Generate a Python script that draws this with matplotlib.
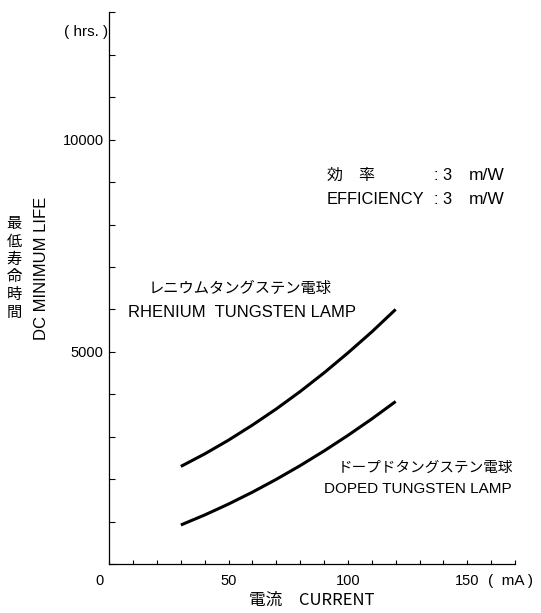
import matplotlib
matplotlib.use("Agg")
import matplotlib.pyplot as plt
from matplotlib.ticker import MultipleLocator
from matplotlib.transforms import ScaledTranslation, blended_transform_factory

# Lamp life vs. current (efficiency 3 lm/W)
current_ma = [30, 40, 50, 60, 70, 80, 90, 100, 110, 120]
rhenium_life = [2300, 2595, 2920, 3275, 3655, 4065, 4505, 4975, 5470, 6000]
doped_life = [920, 1156, 1414, 1694, 1996, 2319, 2664, 3031, 3419, 3830]

x_ticks = [0, 50, 100, 150]
x_tick_labels = ["0", "50", "100", "150"]
y_ticks = [5000, 10000]
y_tick_labels = ["5000", "10000"]

LAT = ["Liberation Sans", "Noto Sans CJK JP"]
JP = ["Noto Sans CJK JP", "Liberation Sans"]

fig = plt.figure(figsize=(5.41, 6.13), dpi=100)
ax = fig.add_axes([0.202, 0.0799, 0.7499, 0.900])

ax.plot(current_ma, rhenium_life, color="black", lw=2.2, solid_capstyle="butt")
ax.plot(current_ma, doped_life, color="black", lw=2.2, solid_capstyle="butt")

ax.set_xlim(0, 170)
ax.set_ylim(0, 13000)
for side in ("top", "right"):
    ax.spines[side].set_visible(False)
for side in ("left", "bottom"):
    ax.spines[side].set_linewidth(0.9)

ax.set_xticks(x_ticks)
ax.set_xticklabels(x_tick_labels, family=LAT, fontsize=10.5)
ax.xaxis.set_minor_locator(MultipleLocator(10))
ax.set_yticks(y_ticks)
ax.set_yticklabels(y_tick_labels, family=LAT, fontsize=10.5)
ax.yaxis.set_minor_locator(MultipleLocator(1000))
ax.tick_params(axis="x", which="both", direction="in", length=3, width=0.8, pad=7)
ax.tick_params(axis="y", which="both", direction="in", length=4, width=0.8, pad=4)

# origin label sits left of the corner
zero_lbl = ax.get_xticklabels()[0]
zero_lbl.set_transform(zero_lbl.get_transform() + ScaledTranslation(-10 / 100, 0, fig.dpi_scale_trans))

ax.set_xlabel("電流　CURRENT", family=JP, fontsize=12, labelpad=3)

bt = blended_transform_factory(ax.transData, ax.transAxes)
ax.text(158.5, -0.031, "(  mA )", transform=bt, family=LAT, fontsize=11,
        ha="left", va="center")
ax.text(-0.3, 12535, "( hrs. )", family=LAT, fontsize=11, ha="right", va="center",
        clip_on=False)

fig.text(0.0758, 0.5628, "DC MINIMUM LIFE", family=LAT, fontsize=12,
         rotation=90, ha="center", va="center")
fig.text(0.0259, 0.5628, "\n".join("最低寿命時間"), family=JP, fontsize=11,
         ha="center", va="center", linespacing=1.05)

ax.text(55, 6503, "レニウムタングステン電球", family=JP, fontsize=11, ha="center", va="center")
ax.text(55.6, 5938, "RHENIUM  TUNGSTEN LAMP", family=LAT, fontsize=12, ha="center", va="center")
ax.text(132.3, 2262, "ドープドタングステン電球", family=JP, fontsize=10.5, ha="center", va="center")
ax.text(129.2, 1767, "DOPED TUNGSTEN LAMP", family=LAT, fontsize=11, ha="center", va="center")

ax.text(91.2, 9166, "効　率", family=JP, fontsize=11.5, ha="left", va="center")
ax.text(91.2, 8600, "EFFICIENCY", family=LAT, fontsize=11.8, ha="left", va="center")
for yv in (9166, 8600):
    ax.text(136.0, yv, ": 3", family=LAT, fontsize=11.8, ha="left", va="center")
    ax.text(150.5, yv, "m/W", family=LAT, fontsize=12.5, ha="left", va="center")

fig.savefig("out.png", dpi=100)
